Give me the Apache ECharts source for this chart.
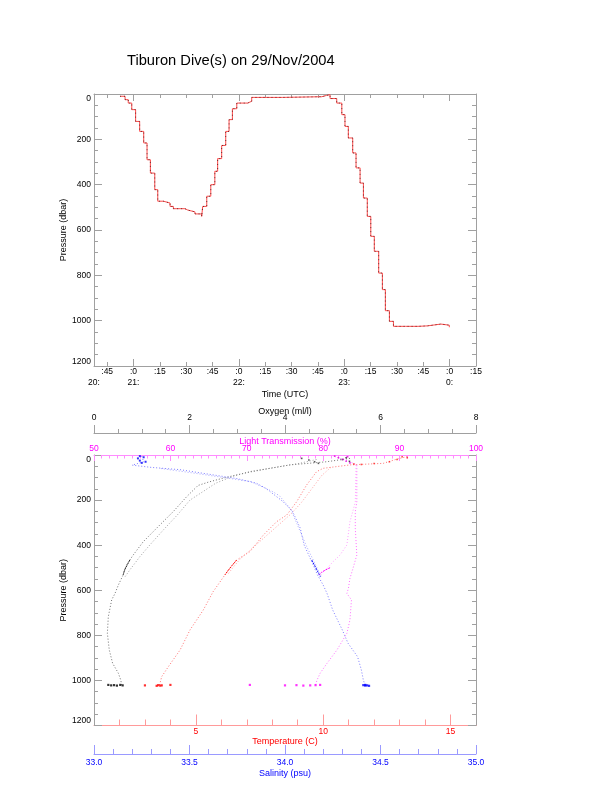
<!DOCTYPE html>
<html>
<head>
<meta charset="utf-8">
<script src="https://cdn.jsdelivr.net/npm/echarts@6/dist/echarts.min.js"></script>
<style>
html,body{margin:0;padding:0;background:#fff;}
#chart{width:612px;height:785px;}
</style>
</head>
<body>
<div id="chart"></div>
<script>
// ---------- Top panel: dive profile (time in minutes after 20:00 UTC) ----------
const diveTime = [52.3,55.2,57.0,59.0,61.2,63.5,65.8,67.7,69.6,72.1,73.8,77.0,80.8,82.7,89.3,90.9,95.0,98.8,
  99.4,101.7,104.0,106.3,107.9,110.2,112.5,114.4,116.3,118.8,125.0,127.3,145.0,167.2,170.0,
  171.9,175.7,178.6,180.4,182.3,184.8,186.7,189.0,190.9,193.1,195.1,197.1,199.6,201.7,203.4,205.7,208.0,
  215.0,222.0,227.3,235.0,239.8];
const divePressure = [10,25,40,69,121,165,216,290,349,422,473,481,496,506,512,520,529,540,
  496,451,400,341,285,227,165,113,65,40,32,15,12,6,3,
  20,40,91,143,194,260,326,393,459,540,628,694,790,863,956,1003,1025,
  1025,1023,1015,1020,1029];

const timeTickValues = [45,60,75,90,105,120,135,150,165,180,195,210,225,240,255];
const timeTickLabels = [':45',':0',':15',':30',':45',':0',':15',':30',':45',':0',':15',':30',':45',':0',':15'];
const hourTickValues = [60,120,180,240];
const hourLabelValues = [37.5,60,120,180,240];
const hourLabels = ['20:','21:','22:','23:','0:'];

// ---------- Bottom panel: profiles vs pressure ----------
// Oxygen (ml/l)
const oxyDeepP = [15,30,44,59,78,100,120,135,185,251,325,385,444,488,532,577,614,643,717,791,865,924,968,998,1020];
const oxyDeep  = [5.36,4.87,4.10,3.69,3.20,2.75,2.40,2.18,1.94,1.66,1.31,1.03,0.82,0.68,0.61,0.51,0.44,0.37,0.30,0.28,0.32,0.39,0.51,0.56,0.58];
const oxyShallowP = [20,37,55,72,95,125,160,200,265,333,399,451,510,540];
const oxyShallow  = [4.66,4.30,3.80,3.30,2.90,2.55,2.30,2.01,1.75,1.45,1.17,0.96,0.75,0.65];
const oxyDenseP = [466,490,510,532];
const oxyDense  = [0.75,0.69,0.64,0.61];
const oxySurfP = [15,22,30,37,20,28,12];
const oxySurf  = [4.35,4.5,4.62,4.7,5.2,5.35,5.28];
const oxyBottomP = [1020,1022,1021,1023,1020,1022];
const oxyBottom  = [0.30,0.36,0.42,0.48,0.55,0.60];

// Temperature (C)
const tempDeepP = [7,18,37,44,59,74,133,207,266,296,355,429,466,503,532,606,688,776,865,939,983,1013,1023];
const tempDeep  = [13.3,12.9,12.36,11.05,10.0,9.74,9.35,8.96,8.57,8.17,7.65,7.12,6.60,6.34,6.14,5.68,5.29,4.77,4.38,3.92,3.66,3.59,3.55];
const tempShallowP = [55,90,150,210,260,310,370,420,460,500,530];
const tempShallow  = [10.3,9.95,9.55,9.15,8.75,8.25,7.65,7.15,6.75,6.45,6.25];
const tempDenseP = [466,490,510,532];
const tempDense  = [6.60,6.42,6.28,6.14];
const tempSurfP = [8,12,20,30,38,42,40];
const tempSurf  = [13.1,13.3,12.9,12.6,12.0,11.5,11.2];
const tempBottomP = [1022,1024,1021,1023,1022,1020];
const tempBottom  = [3.0,3.46,3.52,3.60,3.66,4.0];

// Salinity (psu)
const salDeepP = [5,30,45,55,65,85,105,125,148,207,251,325,399,473,532,577,614,688,776,835,895,954,998,1023];
const salDeep  = [33.25,33.26,33.20,33.30,33.45,33.60,33.75,33.85,33.90,33.99,34.04,34.08,34.10,34.14,34.17,34.20,34.22,34.25,34.30,34.33,34.38,34.40,34.41,34.42];
const salShallowP = [60,80,100,118,160,180,240,320,400,470,540];
const salShallow  = [33.35,33.52,33.68,33.82,33.93,33.97,34.03,34.07,34.11,34.15,34.19];
const salDenseP = [466,490,515,540];
const salDense  = [34.14,34.155,34.17,34.185];
const salSurfP = [5,15,25,35,10,30];
const salSurf  = [33.24,33.23,33.24,33.25,33.26,33.27];
const salBottomP = [1021,1023,1022,1024,1020];
const salBottom  = [34.41,34.42,34.43,34.44,34.42];

// Light transmission (%)
const lightDeepP = [7,30,44,210,250,325,444,503,547,592,614,643,732,791,865,924,968,998,1020];
const lightDeep  = [81.5,83.5,84.4,84.4,84.2,84.2,84.4,83.9,83.5,83.3,83.1,83.7,83.5,83.1,81.8,80.5,79.6,79.2,79.0];
const lightShallowP = [44,210,296,399,444,473,503,525,535];
const lightShallow  = [84.3,84.2,83.5,83.1,82.2,81.3,80.5,79.8,79.6];
const lightDenseP = [500,510,520,530];
const lightDense  = [80.9,80.3,79.8,79.5];
const lightSurfP = [5,12,20,28,35,8];
const lightSurf  = [81.5,82.0,82.6,83.0,83.5,83.2];
const lightBottomP = [1020,1022,1021,1023,1022,1021,1020];
const lightBottom  = [70.4,75.0,76.5,77.4,78.3,79.0,79.6];

// ---------- helpers ----------
const FONT = 'Liberation Sans';
const GRAY = '#a0a0a0';
const pairs = (xs, ys) => xs.map((x, i) => [x, ys[i]]);

function hiddenAxisBase(extra) {
  return Object.assign({
    type: 'value',
    axisLine: { show: false, onZero: false },
    axisTick: { show: false },
    axisLabel: { show: false },
    splitLine: { show: false }
  }, extra);
}

const chart = echarts.init(document.getElementById('chart'), null, { renderer: 'canvas' });

const lblStyle = { fontFamily: FONT, fontSize: 8.5, color: '#000' };
const nameStyle = { fontFamily: FONT, fontSize: 9, color: '#000' };

const pressureAxis = (grid, pos, withLabels) => ({
  type: 'value', gridIndex: grid, position: pos, inverse: true,
  min: 0, max: 1200, interval: 200,
  axisLine: { show: true, onZero: false, lineStyle: { color: GRAY, width: 1 } },
  axisTick: { show: true, inside: true, length: 8, lineStyle: { color: GRAY } },
  minorTick: { show: true, splitNumber: 4, length: 4, lineStyle: { color: GRAY } },
  splitLine: { show: false },
  axisLabel: withLabels ? Object.assign({ show: true, margin: 3, formatter: v => String(v),
    verticalAlignMinLabel: 'top', verticalAlignMaxLabel: 'bottom' }, lblStyle) : { show: false },
  name: withLabels ? 'Pressure (dbar)' : '',
  nameLocation: 'middle', nameRotate: 90, nameGap: 26, nameMoveOverlap: false, nameTextStyle: nameStyle
});

const timeMin = 37.5, timeMax = 255;

const xAxes = [
  // 0: bottom time axis with minute labels
  { type: 'value', gridIndex: 0, position: 'bottom', min: timeMin, max: timeMax,
    axisLine: { show: true, onZero: false, lineStyle: { color: GRAY } },
    axisTick: { show: true, inside: true, length: 4, customValues: timeTickValues, lineStyle: { color: GRAY } },
    axisLabel: Object.assign({ show: true, margin: 1, customValues: timeTickValues,
      formatter: v => timeTickLabels[timeTickValues.indexOf(v)] || '' }, lblStyle),
    splitLine: { show: false } },
  // 1: bottom hour ticks
  hiddenAxisBase({ gridIndex: 0, position: 'bottom', min: timeMin, max: timeMax,
    axisTick: { show: true, inside: true, length: 7, customValues: hourTickValues, lineStyle: { color: GRAY } } }),
  // 2: hour labels (second row) + axis name
  hiddenAxisBase({ gridIndex: 0, position: 'bottom', min: timeMin, max: timeMax,
    axisLabel: Object.assign({ show: true, margin: 12, customValues: hourLabelValues,
      formatter: v => hourLabels[hourLabelValues.indexOf(v)] || '' }, lblStyle),
    name: 'Time (UTC)', nameLocation: 'middle', nameGap: 24, nameMoveOverlap: false, nameTextStyle: nameStyle }),
  // 3: top border with minute ticks
  { type: 'value', gridIndex: 0, position: 'top', min: timeMin, max: timeMax,
    axisLine: { show: true, onZero: false, lineStyle: { color: GRAY } },
    axisTick: { show: true, inside: true, length: 4, customValues: timeTickValues, lineStyle: { color: GRAY } },
    axisLabel: { show: false }, splitLine: { show: false } },
  // 4: top hour ticks
  hiddenAxisBase({ gridIndex: 0, position: 'top', min: timeMin, max: timeMax,
    axisTick: { show: true, inside: true, length: 7, customValues: hourTickValues, lineStyle: { color: GRAY } } }),

  // 5: temperature (bottom border)
  { type: 'value', gridIndex: 1, position: 'bottom', min: 1, max: 16,
    axisLine: { show: true, onZero: false, lineStyle: { color: '#ff9a9a' } },
    axisTick: { show: true, inside: true, length: 6, customValues: [2,3,4,6,7,8,9,11,12,13,14], lineStyle: { color: '#ff9a9a' } },
    axisLabel: Object.assign({}, lblStyle, { show: true, margin: 2, color: '#ff0000', customValues: [5,10,15] }),
    splitLine: { show: false },
    name: 'Temperature (C)', nameLocation: 'middle', nameGap: 11.5, nameMoveOverlap: false,
    nameTextStyle: Object.assign({}, nameStyle, { color: '#ff0000' }) },
  // 6: temperature major ticks
  hiddenAxisBase({ gridIndex: 1, position: 'bottom', min: 1, max: 16,
    axisTick: { show: true, inside: true, length: 11, customValues: [5,10,15], lineStyle: { color: '#ff9a9a' } } }),
  // 7: salinity
  { type: 'value', gridIndex: 1, position: 'bottom', offset: 28.5, min: 33, max: 35, interval: 0.5,
    axisLine: { show: true, onZero: false, lineStyle: { color: '#9a9aff' } },
    axisTick: { show: true, inside: true, length: 9, lineStyle: { color: '#9a9aff' } },
    minorTick: { show: true, splitNumber: 5, length: 5, lineStyle: { color: '#9a9aff' } },
    axisLabel: Object.assign({}, lblStyle, { show: true, margin: 4, color: '#0000ff', formatter: v => v.toFixed(1) }),
    splitLine: { show: false },
    name: 'Salinity (psu)', nameLocation: 'middle', nameGap: 15.5, nameMoveOverlap: false,
    nameTextStyle: Object.assign({}, nameStyle, { color: '#0000ff' }) },
  // 8: light transmission (top border)
  { type: 'value', gridIndex: 1, position: 'top', min: 50, max: 100, interval: 10,
    axisLine: { show: true, onZero: false, lineStyle: { color: '#ff8cff' } },
    axisTick: { show: true, inside: true, length: 6, lineStyle: { color: '#ff8cff' } },
    minorTick: { show: true, splitNumber: 10, length: 3.5, lineStyle: { color: '#ff8cff' } },
    axisLabel: Object.assign({}, lblStyle, { show: true, margin: 1.5, color: '#ff00ff' }),
    splitLine: { show: false },
    name: 'Light Transmission (%)', nameLocation: 'middle', nameGap: 9, nameMoveOverlap: false,
    nameTextStyle: Object.assign({}, nameStyle, { color: '#ff00ff' }) },
  // 9: oxygen (above)
  { type: 'value', gridIndex: 1, position: 'top', offset: 22, min: 0, max: 8, interval: 2,
    axisLine: { show: true, onZero: false, lineStyle: { color: GRAY } },
    axisTick: { show: true, inside: false, length: 8, lineStyle: { color: GRAY } },
    minorTick: { show: true, splitNumber: 4, length: 4, lineStyle: { color: GRAY } },
    axisLabel: Object.assign({}, lblStyle, { show: true, margin: 10.5 }),
    splitLine: { show: false },
    name: 'Oxygen (ml/l)', nameLocation: 'middle', nameGap: 17, nameMoveOverlap: false, nameTextStyle: nameStyle }
];

const yAxes = [
  pressureAxis(0, 'left', true),
  pressureAxis(0, 'right', false),
  pressureAxis(1, 'left', true),
  pressureAxis(1, 'right', false)
];

function profileLine(xi, xs, ps, color) {
  return {
    type: 'line', xAxisIndex: xi, yAxisIndex: 2,
    data: pairs(xs, ps), showSymbol: false, symbol: 'none', silent: true,
    lineStyle: { color: color, width: 1, type: [1, 2], opacity: 0.75 },
    z: 3
  };
}
function denseLine(xi, xs, ps, color) {
  return { type: 'line', xAxisIndex: xi, yAxisIndex: 2, data: pairs(xs, ps), showSymbol: false, symbol: 'none',
    lineStyle: { color: color, width: 1, type: [2, 1] }, z: 4, silent: true };
}
function dots(xi, xs, ps, color, size) {
  return { type: 'scatter', xAxisIndex: xi, yAxisIndex: 2, data: pairs(xs, ps), symbol: 'rect',
    symbolSize: size || 2, itemStyle: { color: color }, z: 5, silent: true };
}

const series = [
  // top dive profile
  { type: 'line', xAxisIndex: 0, yAxisIndex: 0, data: pairs(diveTime, divePressure), step: 'end',
    showSymbol: false, symbol: 'none', lineStyle: { color: '#ff4a4a', width: 1 }, z: 3, silent: true },
  { type: 'line', xAxisIndex: 0, yAxisIndex: 0, data: pairs(diveTime, divePressure), step: 'end',
    showSymbol: false, symbol: 'none', lineStyle: { color: '#000', width: 1, type: [1, 3], opacity: 0.6 }, z: 4, silent: true },

  // oxygen (black)
  profileLine(9, oxyDeep, oxyDeepP, '#404040'),
  profileLine(9, oxyShallow, oxyShallowP, '#808080'),
  denseLine(9, oxyDense, oxyDenseP, '#202020'),
  dots(9, oxySurf, oxySurfP, '#303030', 1.6),
  dots(9, oxyBottom, oxyBottomP, '#000000', 2.2),

  // temperature (red)
  profileLine(5, tempDeep, tempDeepP, '#ff4040'),
  profileLine(5, tempShallow, tempShallowP, '#ff8080'),
  denseLine(5, tempDense, tempDenseP, '#ff0000'),
  dots(5, tempSurf, tempSurfP, '#ff2020', 1.6),
  dots(5, tempBottom, tempBottomP, '#ff0000', 2.2),

  // salinity (blue)
  profileLine(7, salDeep, salDeepP, '#5050ff'),
  profileLine(7, salShallow, salShallowP, '#8c8cff'),
  denseLine(7, salDense, salDenseP, '#0000ff'),
  dots(7, salSurf, salSurfP, '#0000ff', 2),
  dots(7, salBottom, salBottomP, '#0000ff', 2.2),

  // light transmission (magenta)
  profileLine(8, lightDeep, lightDeepP, '#ff40ff'),
  profileLine(8, lightShallow, lightShallowP, '#ff80ff'),
  denseLine(8, lightDense, lightDenseP, '#ff00ff'),
  dots(8, lightSurf, lightSurfP, '#e000e0', 1.6),
  dots(8, lightBottom, lightBottomP, '#ff00ff', 2.2)
];

chart.setOption({
  animation: false,
  backgroundColor: '#ffffff',
  title: {
    text: 'Tiburon Dive(s) on 29/Nov/2004',
    left: 127, top: 53.5, padding: 0,
    textStyle: { fontFamily: FONT, fontSize: 14.7, fontWeight: 'normal', color: '#000' }
  },
  grid: [
    { left: 94, top: 94, width: 382, height: 272, containLabel: false },
    { left: 94, top: 455, width: 382, height: 270.5, containLabel: false }
  ],
  xAxis: xAxes,
  yAxis: yAxes,
  series: series
});
</script>
</body>
</html>
